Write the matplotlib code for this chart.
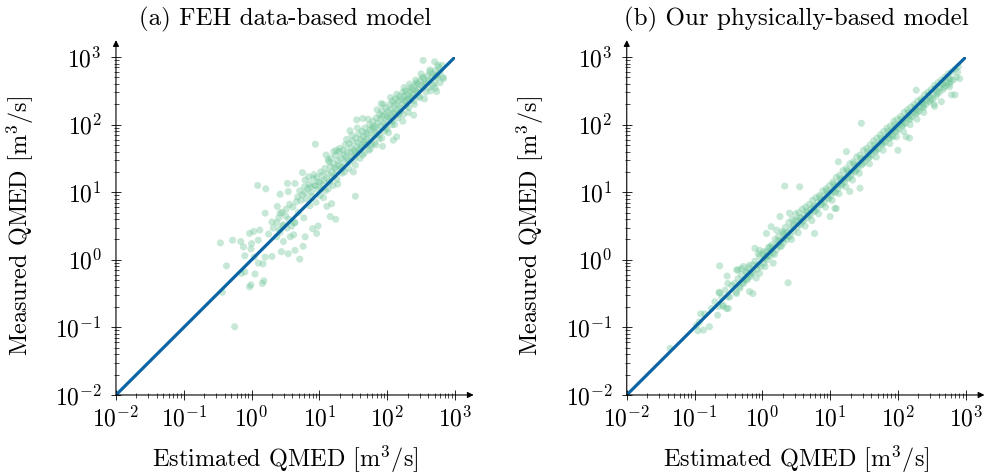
import numpy as np
import matplotlib.pyplot as plt
from matplotlib.ticker import LogLocator, FixedLocator, FixedFormatter, NullFormatter

plt.rcParams['font.family'] = 'serif'
plt.rcParams['font.serif'] = ['cmr10']
plt.rcParams['mathtext.fontset'] = 'cm'
plt.rcParams['axes.unicode_minus'] = False

# points, stored as (log10 estimated, log10 measured)
feh_points = [
    # sparse low end
    (-0.25, -0.99), (-0.46, 0.25), (-0.28, 0.29), (-0.37, -0.09), (-0.43, -0.48),
    (-0.16, 0.27), (-0.12, 0.19), (-0.03, 0.39), (0.03, 0.42), (0.12, 0.44),
    (0.10, 0.29), (0.00, 0.24), (-0.10, 0.06), (-0.01, 0.16), (0.04, 0.04),
    (0.10, -0.05), (0.20, 0.04), (0.30, 0.05), (0.17, -0.06), (-0.15, -0.20),
    (-0.10, -0.18), (-0.01, -0.37), (-0.03, -0.40), (0.18, -0.31), (0.16, -0.35),
    (0.05, -0.21), (0.09, 1.10), (0.21, 1.05), (0.42, 0.97), (0.20, 0.69),
    (0.38, 0.79), (0.42, 0.69), (0.53, 1.13), (0.64, 1.13), (0.54, 1.01),
    (0.30, 0.56), (0.37, 0.55), (0.47, 0.52), (0.32, 0.47), (0.42, 0.41),
    (0.52, 0.47), (0.59, 0.50), (0.64, 0.55), (0.25, 0.38), (0.37, 0.34),
    (0.47, 0.27), (0.57, 0.34), (0.62, 0.37), (0.44, 0.12), (0.54, 0.09),
    (0.64, 0.14), (0.71, 0.01), (0.76, 0.20), (0.79, 0.34), (0.96, 0.39),
    (0.90, 0.46), (0.98, 0.50), (1.11, 0.79), (1.18, 0.83), (1.24, 0.60),
    (1.16, 0.64), (1.53, 0.94), (0.94, 1.71), (0.75, 1.29), (0.79, 1.18),
    (0.84, 1.23), (0.92, 1.26), (0.87, 1.08), (0.94, 1.10), (1.01, 1.15),
    (1.10, 1.55), (1.13, 1.48), (1.21, 1.60), (1.25, 1.62), (1.45, 1.91),
    (1.55, 2.07), (1.64, 2.09), (1.91, 2.31), (1.93, 1.68), (2.09, 1.77),
    (2.14, 1.82), (2.39, 2.14), (2.53, 2.95), (2.70, 2.93), (2.75, 2.88),
    (2.63, 2.81), (2.73, 2.73), (2.83, 2.68), (2.71, 2.54), (2.73, 2.49),
    (0.40, 0.62), (0.41, 0.45), (0.45, 0.70), (0.46, 0.50), (0.50, 0.65),
    (0.51, 0.75), (0.55, 0.60), (0.56, 0.82),
    # dense band
    (0.61, 0.78), (0.63, 0.55), (0.66, 0.86), (0.68, 0.93), (0.69, 0.70),
    (0.71, 1.02), (0.73, 0.88), (0.75, 0.96), (0.77, 0.62), (0.78, 1.08), (0.79, 0.99),
    (0.81, 0.90), (0.83, 1.05), (0.85, 1.12), (0.86, 0.80), (0.88, 1.00), (0.89, 0.94),
    (0.91, 1.20), (0.93, 1.10), (0.95, 0.85), (0.96, 1.22), (0.97, 1.04), (0.99, 1.15),
    (1.01, 0.95), (1.02, 1.30), (1.04, 1.25), (1.05, 1.10), (1.07, 1.18), (1.08, 1.35),
    (1.09, 1.02), (1.11, 1.20), (1.12, 1.28), (1.14, 1.45), (1.15, 1.15), (1.16, 1.38),
    (1.18, 1.30), (1.19, 1.22), (1.21, 1.42), (1.22, 1.25), (1.24, 1.55), (1.25, 1.33),
    (1.26, 1.19), (1.27, 1.47), (1.28, 1.40), (1.29, 1.60), (1.31, 1.38), (1.32, 1.50),
    (1.33, 1.28), (1.35, 1.62), (1.36, 1.55), (1.37, 1.44), (1.38, 1.70), (1.39, 1.52),
    (1.41, 1.60), (1.42, 1.48), (1.43, 1.35), (1.44, 1.72), (1.46, 1.58), (1.47, 1.66),
    (1.48, 1.53), (1.49, 1.76), (1.51, 1.62), (1.52, 1.50), (1.53, 1.40), (1.54, 1.80),
    (1.55, 1.68), (1.56, 1.58), (1.57, 1.73), (1.58, 1.86), (1.59, 1.63), (1.61, 1.78),
    (1.62, 1.66), (1.63, 1.90), (1.64, 1.55), (1.65, 1.82), (1.66, 1.75), (1.67, 1.95),
    (1.68, 1.70), (1.69, 1.86), (1.71, 1.88), (1.72, 1.72), (1.73, 1.62), (1.74, 2.00),
    (1.75, 1.92), (1.76, 1.80), (1.77, 1.70), (1.78, 1.96), (1.79, 2.05), (1.80, 1.85),
    (1.81, 1.73), (1.82, 1.98), (1.83, 1.88), (1.84, 2.10), (1.86, 2.02), (1.87, 1.92),
    (1.88, 1.79), (1.89, 2.15), (1.90, 2.08), (1.91, 1.98), (1.92, 2.20), (1.93, 2.12),
    (1.95, 2.02), (1.96, 1.90), (1.97, 2.15), (1.98, 2.25), (1.99, 2.05), (2.00, 1.93),
    (2.01, 2.20), (2.03, 2.10), (2.04, 2.30), (2.05, 2.22), (2.06, 2.12), (2.07, 2.00),
    (2.08, 2.35), (2.09, 2.17), (2.10, 2.28), (2.11, 2.18), (2.12, 2.38), (2.13, 2.30),
    (2.15, 2.22), (2.16, 2.10), (2.17, 2.35), (2.18, 2.42), (2.19, 2.25), (2.21, 2.38),
    (2.22, 2.30), (2.23, 2.48), (2.24, 2.15), (2.25, 2.42), (2.26, 2.35), (2.27, 2.50),
    (2.28, 2.28), (2.29, 2.45), (2.31, 2.38), (2.32, 2.25), (2.33, 2.50), (2.34, 2.42),
    (2.35, 2.55), (2.37, 2.52), (2.38, 2.45), (2.39, 2.35), (2.41, 2.58), (2.42, 2.50),
    (2.43, 2.62), (2.45, 2.60), (2.46, 2.52), (2.47, 2.42), (2.49, 2.65), (2.51, 2.58),
    (2.52, 2.70), (2.54, 2.68), (2.56, 2.60), (2.57, 2.48), (2.59, 2.72), (2.61, 2.65),
    (2.63, 2.78), (2.66, 2.70), (2.68, 2.58), (2.71, 2.80), (2.72, 2.72), (2.76, 2.85),
    (2.78, 2.78), (2.81, 2.88), (2.82, 2.70),
    (1.03, 1.05), (1.06, 0.92), (1.13, 1.05), (1.17, 1.50), (1.20, 1.10), (1.23, 1.36),
    (1.27, 1.12), (1.30, 1.65), (1.34, 1.36), (1.37, 1.30), (1.40, 1.78), (1.45, 1.45),
    (1.48, 1.84), (1.50, 1.30), (1.53, 1.60), (1.56, 1.95), (1.60, 1.50), (1.63, 1.70),
    (1.66, 1.58), (1.70, 1.78), (1.72, 2.08), (1.75, 1.64), (1.80, 1.95), (1.83, 1.70),
    (1.85, 2.22), (1.88, 1.85), (1.92, 1.80), (1.94, 2.30), (1.97, 1.96), (2.00, 2.12),
    (2.02, 1.88), (2.05, 2.40), (2.08, 2.05), (2.11, 2.00), (2.14, 2.45), (2.17, 2.15),
    (2.20, 2.20), (2.23, 2.05), (2.25, 2.55), (2.28, 2.36), (2.31, 2.18), (2.33, 2.60),
    (2.36, 2.40), (2.40, 2.30), (2.42, 2.66), (2.44, 2.48), (2.48, 2.40), (2.50, 2.75),
    (2.53, 2.55), (2.55, 2.38), (2.58, 2.62), (2.62, 2.55), (2.64, 2.50), (2.67, 2.75),
    (2.70, 2.62), (2.74, 2.70), (2.78, 2.62),
]

phys_points = [
    # sparse low end and outliers
    (-1.36, -1.31), (-0.93, -0.92), (-0.87, -1.04), (-0.78, -0.99), (-0.97, -0.97),
    (-0.63, -0.49), (-0.65, -0.69), (-0.58, -0.67), (-0.50, -0.72), (-0.52, -0.24),
    (-0.63, -0.09), (-0.38, -0.15), (-0.28, -0.10), (-0.18, -0.22), (-0.28, -0.35),
    (-0.14, -0.50), (-0.11, 0.17), (-0.06, 0.09), (0.06, 0.05), (0.16, -0.05),
    (0.11, 0.19), (0.38, -0.34), (0.33, 1.09), (0.55, 1.08), (0.26, 0.64),
    (0.21, 0.44), (0.31, 0.39), (0.40, 0.69), (1.44, 1.06), (1.46, 2.02),
    (1.07, 0.76), (0.77, 0.39), (1.93, 1.82), (2.00, 1.62), (2.27, 2.51),
    (2.37, 2.36), (2.79, 2.44), (2.91, 2.68), (2.76, 2.68), (2.67, 2.61),
    (-0.51, -0.35), (-0.64, -0.48), (-0.66, -0.82), (-0.91, -0.80), (-0.95, -1.05),
    (-0.36, -0.15), (-0.31, -0.13), (-0.23, -0.18), (-0.19, -0.08), (-0.04, 0.14),
    (0.06, 0.39), (0.13, 0.49), (-0.58, -0.69), (-0.53, -0.72), (-0.51, -0.55),
    (-0.38, -0.50), (-0.33, -0.42), (-0.19, -0.47), (-0.23, -0.30), (-0.04, -0.20),
    (-0.09, -0.27), (0.04, -0.10), (2.84, 2.44), (2.76, 2.56), (2.64, 2.34),
    (2.54, 2.27), (2.17, 1.80), (2.12, 1.82), (1.24, 1.60), (1.12, 1.45),
    (1.29, 1.01), (1.00, 0.64), (1.09, 0.76), (-0.85, -0.80), (-0.75, -0.72),
    (-0.70, -0.62), (-0.60, -0.55), (-0.55, -0.45), (-0.45, -0.38), (-0.48, -0.55),
    # dense band
    (-0.41, -0.35), (-0.39, -0.48), (-0.36, -0.28), (-0.34, -0.40), (-0.31, -0.22),
    (-0.29, -0.34), (-0.27, -0.30), (-0.24, -0.18), (-0.22, -0.28), (-0.21, -0.12),
    (-0.18, -0.25), (-0.16, -0.20), (-0.14, -0.08), (-0.13, -0.18), (-0.11, -0.02),
    (-0.08, -0.14), (-0.07, -0.08), (-0.04, 0.05), (-0.02, -0.10), (0.01, 0.08),
    (0.02, -0.05), (0.03, 0.02), (0.06, 0.12), (0.07, 0.00), (0.09, 0.18),
    (0.11, 0.05), (0.12, 0.12), (0.14, 0.22), (0.16, 0.10), (0.19, 0.30),
    (0.21, 0.15), (0.22, 0.22), (0.24, 0.35), (0.26, 0.20), (0.27, 0.28),
    (0.29, 0.42), (0.31, 0.25), (0.32, 0.32), (0.34, 0.48), (0.36, 0.30),
    (0.37, 0.40), (0.39, 0.55), (0.41, 0.35), (0.42, 0.45), (0.43, 0.30),
    (0.44, 0.60), (0.46, 0.42), (0.47, 0.52), (0.49, 0.68), (0.51, 0.48),
    (0.52, 0.58), (0.53, 0.40), (0.54, 0.70), (0.56, 0.52), (0.57, 0.62),
    (0.59, 0.75), (0.61, 0.58), (0.62, 0.66), (0.63, 0.50), (0.64, 0.78),
    (0.66, 0.62), (0.67, 0.70), (0.69, 0.82), (0.71, 0.66), (0.72, 0.75),
    (0.73, 0.58), (0.74, 0.88), (0.76, 0.72), (0.77, 0.80), (0.79, 0.92),
    (0.81, 0.76), (0.82, 0.85), (0.83, 0.68), (0.84, 0.95), (0.86, 0.82),
    (0.87, 0.88), (0.89, 1.02), (0.91, 0.85), (0.92, 0.95), (0.93, 0.78),
    (0.94, 1.05), (0.96, 0.92), (0.97, 0.98), (0.99, 1.10), (1.01, 0.95),
    (1.02, 1.02), (1.03, 0.88), (1.04, 1.15), (1.06, 1.00), (1.07, 1.08),
    (1.09, 1.22), (1.11, 1.05), (1.12, 1.12), (1.13, 0.98), (1.14, 1.25),
    (1.16, 1.10), (1.17, 1.18), (1.19, 1.32), (1.21, 1.15), (1.22, 1.22),
    (1.23, 1.08), (1.24, 1.35), (1.26, 1.20), (1.27, 1.28), (1.29, 1.42),
    (1.31, 1.25), (1.32, 1.32), (1.33, 1.18), (1.34, 1.45), (1.36, 1.30),
    (1.37, 1.38), (1.39, 1.52), (1.41, 1.35), (1.42, 1.42), (1.43, 1.28),
    (1.44, 1.55), (1.46, 1.40), (1.47, 1.48), (1.49, 1.62), (1.51, 1.45),
    (1.52, 1.52), (1.54, 1.65), (1.56, 1.50), (1.57, 1.56), (1.58, 1.42),
    (1.59, 1.70), (1.61, 1.55), (1.62, 1.62), (1.64, 1.76), (1.66, 1.60),
    (1.67, 1.66), (1.68, 1.52), (1.69, 1.80), (1.71, 1.64), (1.72, 1.72),
    (1.74, 1.85), (1.76, 1.70), (1.77, 1.76), (1.78, 1.62), (1.79, 1.90),
    (1.81, 1.74), (1.82, 1.82), (1.84, 1.95), (1.86, 1.80), (1.87, 1.86),
    (1.88, 1.72), (1.89, 1.98), (1.91, 1.84), (1.92, 1.92), (1.94, 2.05),
    (1.96, 1.90), (1.97, 1.96), (1.98, 1.82), (1.99, 2.08), (2.01, 1.94),
    (2.02, 2.00), (2.04, 2.12), (2.06, 1.98), (2.07, 2.04), (2.08, 1.90),
    (2.09, 2.18), (2.11, 2.02), (2.12, 2.10), (2.14, 2.22), (2.16, 2.08),
    (2.17, 2.14), (2.18, 2.00), (2.19, 2.26), (2.21, 2.12), (2.22, 2.18),
    (2.24, 2.30), (2.26, 2.16), (2.27, 2.22), (2.28, 2.08), (2.29, 2.35),
    (2.31, 2.20), (2.32, 2.26), (2.34, 2.38), (2.36, 2.25), (2.37, 2.30),
    (2.38, 2.18), (2.39, 2.44), (2.41, 2.30), (2.42, 2.36), (2.44, 2.48),
    (2.46, 2.34), (2.47, 2.40), (2.49, 2.52), (2.51, 2.38), (2.52, 2.45),
    (2.53, 2.30), (2.54, 2.58), (2.56, 2.42), (2.57, 2.50), (2.59, 2.62),
    (2.61, 2.48), (2.62, 2.55), (2.64, 2.66), (2.66, 2.52), (2.69, 2.70),
    (2.71, 2.58), (2.72, 2.62), (2.74, 2.75), (2.76, 2.60), (2.79, 2.78),
    (2.81, 2.66), (2.84, 2.82), (2.86, 2.70), (2.89, 2.86),
    (0.02, 0.12), (0.08, 0.06), (0.15, 0.18), (0.18, 0.08), (0.23, 0.28), (0.28, 0.20),
    (0.33, 0.40), (0.38, 0.35), (0.45, 0.50), (0.48, 0.58), (0.55, 0.62), (0.58, 0.55),
    (0.65, 0.72), (0.68, 0.66), (0.75, 0.78), (0.78, 0.72), (0.85, 0.92), (0.88, 0.82),
    (0.95, 1.02), (0.98, 0.90), (1.05, 1.12), (1.08, 1.00), (1.15, 1.20), (1.18, 1.12),
    (1.25, 1.32), (1.28, 1.22), (1.35, 1.42), (1.38, 1.32), (1.45, 1.50), (1.48, 1.42),
    (1.55, 1.60), (1.58, 1.52), (1.65, 1.70), (1.68, 1.62), (1.75, 1.80), (1.78, 1.72),
    (1.85, 1.90), (1.88, 1.80), (1.95, 2.00), (1.98, 1.90), (2.05, 2.08), (2.08, 2.00),
    (2.15, 2.18), (2.18, 2.08), (2.25, 2.26), (2.28, 2.18), (2.35, 2.34), (2.38, 2.26),
    (2.45, 2.44), (2.48, 2.36), (2.55, 2.54), (2.58, 2.46), (2.65, 2.60), (2.68, 2.55),
    (2.75, 2.68), (2.78, 2.64), (2.88, 2.78),
]

titles = ['(a) FEH data-based model', '(b) Our physically-based model']
diag = [1e-2, 1e3]
decades = [1e-2, 1e-1, 1e0, 1e1, 1e2, 1e3]
decade_labels = [r'$10^{-2}$', r'$10^{-1}$', r'$10^{0}$', r'$10^{1}$', r'$10^{2}$', r'$10^{3}$']

dot_color = '#6cc596'
line_color = '#0b64a3'

fig = plt.figure(figsize=(9.87, 4.74), dpi=100)
lefts = [0.1175, 0.635]

for left, pts, title in zip(lefts, [feh_points, phys_points], titles):
    ax = fig.add_axes([left, 0.1667, 0.3435, 0.713])
    pts = np.array(pts)
    ax.scatter(10 ** pts[:, 0], 10 ** pts[:, 1], s=26, color=dot_color, alpha=0.38,
               edgecolors='none', zorder=2)
    ax.plot(diag, diag, color=line_color, lw=2.3, zorder=3, solid_capstyle='butt')
    ax.set_xscale('log')
    ax.set_yscale('log')
    ax.set_xlim(diag)
    ax.set_ylim(diag)

    for s in ax.spines.values():
        s.set_visible(False)
    arrow = dict(arrowstyle='-|>', color='k', lw=0.8, mutation_scale=9, shrinkA=0, shrinkB=0)
    ax.annotate('', xy=(1.055, 0), xytext=(0, 0), xycoords='axes fraction', arrowprops=arrow)
    ax.annotate('', xy=(0, 1.05), xytext=(0, 0), xycoords='axes fraction', arrowprops=arrow)

    for axis in [ax.xaxis, ax.yaxis]:
        axis.set_major_locator(FixedLocator(decades))
        axis.set_major_formatter(FixedFormatter(decade_labels))
        axis.set_minor_locator(LogLocator(base=10, subs=range(2, 10), numticks=100))
        axis.set_minor_formatter(NullFormatter())
    ax.tick_params(which='major', direction='inout', length=6.5, width=0.6, labelsize=17)
    ax.tick_params(which='minor', direction='inout', length=3.6, width=0.5)
    ax.tick_params(axis='x', pad=5)
    ax.tick_params(axis='y', pad=7)

    ax.set_title(title, fontsize=18, pad=23)
    ax.set_xlabel('Estimated QMED [m$^3$/s]', fontsize=17.5)
    ax.set_ylabel('Measured QMED [m$^3$/s]', fontsize=17.5)
    ax.xaxis.set_label_coords(0.5, -0.145)
    ax.yaxis.set_label_coords(-0.237, 0.5)

fig.savefig('out.png', dpi=100)
